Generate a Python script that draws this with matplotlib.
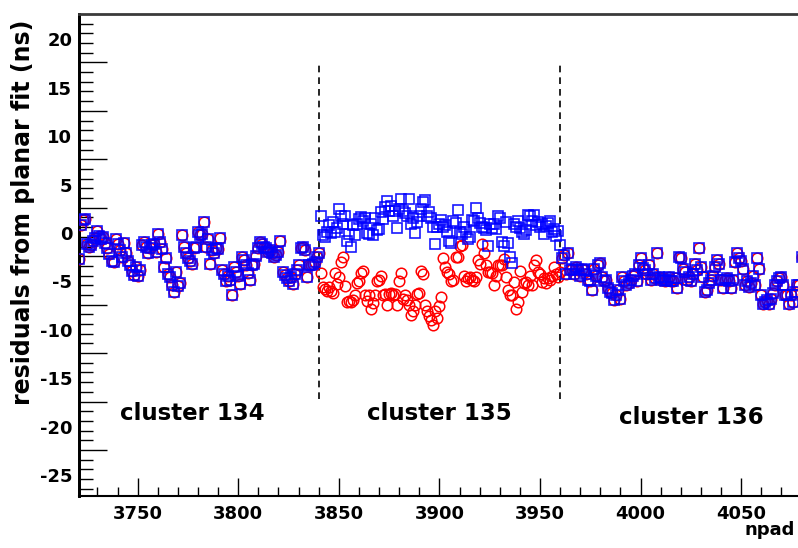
import numpy as np
import matplotlib
matplotlib.use('Agg')
from matplotlib import pyplot as plt

# residuals per pad, one value per npad, three clusters of 120 pads each
blue_134 = [-2.7, 0.8, 1.3, 1.4, -1.1, -1.4, -1.2, -0.8, -0.5, 0.2,
            -0.3, -0.6, -0.4, -1.0, -1.6, -2.2, -2.9, -3.0, -0.6, -1.1,
            -1.8, -2.5, -1.0, -2.1, -2.9, -3.3, -3.9, -4.3, -3.5, -4.4,
            -3.8, -1.2, -0.9, -1.5, -2.1, -1.6, -1.2, -1.1, -2.0, -0.1,
            -0.9, -1.7, -3.5, -2.6, -4.2, -4.5, -5.4, -6.1, -4.0, -5.5,
            -5.2, -0.2, -1.5, -2.1, -2.6, -2.9, -3.2, -1.6, -1.4, 0.1,
            -0.2, -0.1, 1.1, -1.4, -0.6, -3.2, -1.8, -2.1, -1.6, -1.7,
            -0.5, -3.8, -4.2, -5.0, -4.4, -4.9, -6.4, -3.5, -4.0, -4.4,
            -5.3, -2.5, -2.8, -3.3, -4.1, -4.9, -3.3, -3.2, -2.4, -1.6,
            -0.9, -1.1, -1.4, -1.6, -2.0, -1.8, -2.1, -2.5, -2.3, -2.0,
            -0.8, -4.0, -4.3, -4.7, -5.0, -4.5, -5.3, -4.2, -3.8, -3.3,
            -1.6, -1.4, -1.8, -4.5, -3.3, -3.3, -3.2, -3.0, -2.5, -2.1]

blue_135 = [1.8, -0.2, -0.4, 0.1, 0.8, 0.0, 1.1, 0.1, 0.5, 2.5,
            1.7, 0.9, 1.8, -0.8, -0.1, -1.4, 0.8, -0.2, 0.9, 1.4,
            1.6, 1.2, 1.5, 0.0, -0.1, 0.9, -0.2, 1.5, 0.3, 0.4,
            2.2, 1.4, 2.7, 3.3, 2.3, 2.8, 1.8, 2.3, 0.5, 2.5,
            3.5, 2.3, 2.1, 1.8, 3.5, 0.9, 1.5, 0.0, 1.1, 1.8,
            2.5, 3.2, 3.4, 1.8, 2.2, 1.5, 0.6, -1.1, 0.6, 0.9,
            1.3, 0.6, 0.8, 0.1, -0.8, -1.0, 1.2, 1.0, 2.4, 0.1,
            -0.1, 0.6, 0.1, -0.6, -0.4, 1.3, 1.2, 2.6, 1.5, 1.0,
            0.6, 0.5, 0.3, -1.3, 0.9, 0.5, 0.9, 0.4, 1.8, 1.5,
            -0.9, -1.3, 1.1, -1.0, -2.5, -3.1, 0.9, 0.6, 1.2, 0.5,
            0.1, -0.1, 0.3, 1.9, 1.7, 1.2, 1.9, 0.8, 1.1, 0.6,
            0.9, -0.1, 0.7, 1.0, 1.2, 0.1, 0.4, -0.3, 0.2, -1.2]

red_135 = [-4.1, -5.6, -5.8, -6.0, -5.6, -6.0, -6.2, -4.1, -5.3, -4.5,
           -3.0, -2.5, -5.5, -7.1, -7.0, -7.1, -6.9, -6.4, -5.2, -5.0,
           -4.1, -3.9, -6.4, -7.0, -6.4, -7.9, -7.2, -6.4, -5.0, -4.9,
           -4.4, -6.4, -6.3, -7.4, -6.3, -6.2, -6.4, -6.3, -7.4, -5.0,
           -4.1, -6.8, -6.4, -6.9, -7.4, -8.5, -8.1, -7.4, -6.3, -6.2,
           -3.9, -4.2, -7.4, -8.1, -8.6, -9.0, -9.5, -8.1, -8.8, -7.5,
           -6.6, -2.6, -3.5, -4.0, -4.2, -5.0, -4.9, -2.5, -2.5, -1.3,
           -1.2, -4.4, -5.0, -4.7, -4.5, -4.9, -5.0, -4.5, -2.8, -3.2,
           -1.1, -2.1, -3.3, -4.0, -4.0, -4.1, -5.4, -4.4, -3.3, -3.3,
           -3.3, -2.7, -4.5, -5.9, -6.4, -6.4, -5.1, -7.9, -7.1, -3.9,
           -6.1, -5.2, -5.1, -5.4, -4.4, -5.4, -3.3, -2.8, -4.0, -4.2,
           -5.1, -4.7, -5.2, -4.7, -4.9, -4.4, -3.5, -4.2, -4.5, -4.0]

blue_136 = [-2.6, -2.3, -4.2, -2.1, -3.8, -3.7, -4.2, -3.5, -3.8, -4.4,
            -3.7, -3.8, -4.2, -4.9, -5.0, -5.9, -3.7, -4.4, -3.3, -3.1,
            -4.5, -5.0, -4.9, -5.7, -6.1, -6.2, -6.9, -6.4, -5.9, -6.8,
            -4.5, -5.0, -5.4, -5.2, -4.9, -4.4, -4.2, -5.0, -3.3, -2.6,
            -3.6, -3.8, -4.2, -3.3, -4.9, -4.2, -4.7, -2.1, -4.5, -4.9,
            -4.7, -5.0, -4.9, -4.5, -5.0, -5.0, -4.7, -5.7, -2.5, -2.6,
            -3.7, -4.0, -4.9, -4.5, -5.0, -4.2, -3.2, -3.8, -1.6, -3.5,
            -4.5, -6.1, -5.9, -5.2, -4.9, -4.4, -3.5, -2.8, -3.2, -4.9,
            -5.7, -4.9, -4.7, -5.0, -5.7, -4.9, -3.0, -2.1, -2.6, -2.9,
            -3.7, -5.4, -5.0, -5.6, -5.2, -4.4, -5.4, -2.6, -3.7, -6.4,
            -7.3, -7.1, -6.9, -7.3, -6.8, -6.2, -5.4, -5.0, -4.7, -4.5,
            -5.4, -6.4, -6.4, -7.3, -6.4, -7.1, -6.1, -5.4, -5.4, -2.5]

first_pad = 3721
cluster_edges = [3840, 3960]
cluster_names = ['cluster 134', 'cluster 135', 'cluster 136']
cluster_label_x = [3777, 3900, 4025]
cluster_label_y = [-18.6, -18.6, -19.0]
ytick_values = [20, 15, 10, 5, 0, -5, -10, -15, -20, -25]

blue = np.array(blue_134 + blue_135 + blue_136)
red = np.array(blue_134 + red_135 + blue_136)
npad = np.arange(first_pad, first_pad + len(blue))

plt.rcParams['font.family'] = 'DejaVu Sans'
plt.rcParams['font.weight'] = 'bold'

fig = plt.figure(figsize=(7.98, 5.48), dpi=100)
ax = fig.add_axes([0.0994, 0.0940, 0.905, 0.8805])

ax.plot(npad, red, 'o', ms=7.6, mfc='none', mec='#ff0000', mew=1.1, zorder=3)
ax.plot(npad, blue, 's', ms=7.0, mfc='none', mec='#0000ff', mew=1.2, alpha=0.9, zorder=4)

for xe in cluster_edges:
    ax.plot([xe, xe], [-17.1, 17.6], color='black', lw=1.2, ls=(0, (4, 3)), zorder=2)

for name, lx, ly in zip(cluster_names, cluster_label_x, cluster_label_y):
    ax.text(lx, ly, name, ha='center', va='center', fontsize=16.5, fontweight='bold')

ax.set_xlim(3721, 4080)
ax.set_ylim(-27.2, 22.6)

# x axis: major every 50, minor every 10, ticks pointing inside
ax.set_xticks(np.arange(3750, 4051, 50))
ax.set_xticks(np.arange(3730, 4081, 10), minor=True)
ax.tick_params(axis='x', which='major', direction='in', length=13, width=1.0,
               labelsize=13, pad=6)
ax.tick_params(axis='x', which='minor', direction='in', length=6.5, width=1.0)
for lab in ax.get_xticklabels():
    lab.set_fontweight('bold')

# y axis labels, tick marks drawn on a second left axis
ax.set_yticks(ytick_values)
ax.tick_params(axis='y', which='major', length=0, labelsize=13, pad=5)
ax.set_yticklabels([str(v) for v in ytick_values], fontweight='bold')

sec = ax.secondary_yaxis('left')
sec.set_yticks(np.arange(-22.4, 22.0, 5))
sec.set_yticks(np.arange(-26.4, 22.6, 1.0), minor=True)
sec.tick_params(axis='y', which='major', direction='in', length=20, width=1.0, labelleft=False)
sec.tick_params(axis='y', which='minor', direction='in', length=10, width=1.0)
sec.spines['left'].set_linewidth(2.0)

ax.spines['right'].set_visible(False)
ax.spines['top'].set_color('#3a3a3a')
ax.spines['top'].set_linewidth(2.0)
ax.spines['left'].set_linewidth(2.0)
ax.spines['bottom'].set_linewidth(1.5)

ax.set_ylabel('residuals from planar fit (ns)', fontsize=17, fontweight='bold',
              va='center', ha='right')
ax.yaxis.set_label_coords(-0.078, 0.988)
fig.text(0.996, 0.033, 'npad', ha='right', va='center', fontsize=13, fontweight='bold')

fig.savefig('out.png', dpi=100)
